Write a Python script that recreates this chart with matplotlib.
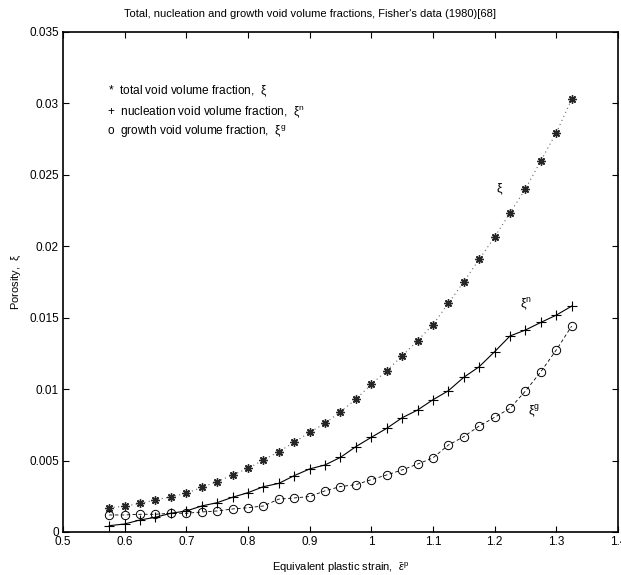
import matplotlib
matplotlib.use("Agg")
import matplotlib.pyplot as plt

plt.rcParams['font.family'] = ['Liberation Sans', 'DejaVu Sans']
plt.rcParams['mathtext.fontset'] = 'custom'
plt.rcParams['mathtext.rm'] = 'Liberation Sans'
plt.rcParams['mathtext.it'] = 'Liberation Sans:italic'
plt.rcParams['mathtext.sf'] = 'Liberation Sans'

# Equivalent plastic strain sampling points
strain = [0.575, 0.6, 0.625, 0.65, 0.675, 0.7, 0.725, 0.75, 0.775, 0.8,
          0.825, 0.85, 0.875, 0.9, 0.925, 0.95, 0.975, 1.0, 1.025, 1.05,
          1.075, 1.1, 1.125, 1.15, 1.175, 1.2, 1.225, 1.25, 1.275, 1.3, 1.325]

# Total void volume fraction
total = [0.0017, 0.0018, 0.0020, 0.00224, 0.00247, 0.0027, 0.00313, 0.00352,
         0.00399, 0.00445, 0.00503, 0.00562, 0.00627, 0.00697, 0.0076, 0.00841,
         0.00928, 0.01033, 0.01128, 0.01231, 0.01338, 0.01450, 0.01599, 0.0175,
         0.01907, 0.02063, 0.02233, 0.02399, 0.02597, 0.02792, 0.03026]

# Nucleation void volume fraction
nucleation = [0.00044, 0.00056, 0.00084, 0.00103, 0.00131, 0.00147, 0.00182,
              0.00205, 0.00243, 0.00275, 0.00317, 0.0034, 0.00394, 0.00441,
              0.00469, 0.00522, 0.00597, 0.00662, 0.00725, 0.00799, 0.00853,
              0.00925, 0.00988, 0.01082, 0.01156, 0.01261, 0.01371, 0.01413,
              0.01466, 0.01517, 0.0158]

# Growth void volume fraction
growth = [0.00119, 0.00119, 0.00124, 0.00124, 0.00131, 0.00131, 0.0014,
          0.00147, 0.00161, 0.0017, 0.00182, 0.0023, 0.00238, 0.00248,
          0.00288, 0.00318, 0.00331, 0.00366, 0.00399, 0.00434, 0.00475,
          0.00518, 0.00608, 0.00667, 0.00741, 0.00802, 0.00865, 0.00986,
          0.01121, 0.01273, 0.0144]

xticks = [0.5, 0.6, 0.7, 0.8, 0.9, 1.0, 1.1, 1.2, 1.3, 1.4]
xticklabels = ['0.5', '0.6', '0.7', '0.8', '0.9', '1', '1.1', '1.2', '1.3', '1.4']
yticks = [0, 0.005, 0.01, 0.015, 0.02, 0.025, 0.03, 0.035]
yticklabels = ['0', '0.005', '0.01', '0.015', '0.02', '0.025', '0.03', '0.035']

XI = r'$\mathrm{\xi}$'
XI_N = r'$\mathrm{\xi}^{\mathrm{n}}$'
XI_G = r'$\mathrm{\xi}^{\mathrm{g}}$'

fig = plt.figure(figsize=(6.21, 5.75), dpi=100)
ax = fig.add_axes([0.1014, 0.0748, 0.8936, 0.8701])

asterisk = (8, 2, 0)
ax.plot(strain, total, linestyle=(0, (1, 3)), color='0.4', linewidth=0.8,
        marker=asterisk, markersize=6, markeredgecolor='0.15',
        markeredgewidth=1.0)
ax.plot(strain, nucleation, linestyle='-', color='black', linewidth=0.8,
        marker='+', markersize=6.5, markeredgewidth=0.8)
ax.plot(strain, growth, linestyle=(0, (4, 3)), color='black', linewidth=0.6,
        marker='o', markersize=6, markerfacecolor='none',
        markeredgecolor='black', markeredgewidth=0.7)

ax.set_xlim(0.5, 1.4)
ax.set_ylim(0, 0.035)
ax.set_xticks(xticks)
ax.set_xticklabels(xticklabels)
ax.set_yticks(yticks)
ax.set_yticklabels(yticklabels)
ax.tick_params(direction='in', length=4, width=0.8, top=True, right=True,
               labelsize=8.5, pad=3)
for sp in ax.spines.values():
    sp.set_linewidth(1.2)

fig.text(341 / 621, 1 - 568 / 575,
         r'Equivalent plastic strain,  $\bar{\varepsilon}^{\mathrm{p}}$',
         ha='center', va='center', fontsize=8)
ax.set_ylabel('Porosity,  ' + XI, fontsize=8, labelpad=4)
fig.text(310 / 621, 1 - 14 / 575,
         "Total, nucleation and growth void volume fractions, Fisher's data (1980)[68]",
         ha='center', va='center', fontsize=8)

# Curve annotations
ax.text(1.208, 0.0240, XI, fontsize=9, ha='center', va='center')
ax.text(1.251, 0.0159, XI_N, fontsize=9, ha='center', va='center')
ax.text(1.264, 0.0084, XI_G, fontsize=9, ha='center', va='center')

# Key text
ax.text(0.573, 0.0308, '*  total void volume fraction,  ' + XI,
        fontsize=8.6, va='center')
ax.text(0.571, 0.02935, '+  nucleation void volume fraction,  ' + XI_N,
        fontsize=8.6, va='center')
ax.text(0.571, 0.0280, 'o  growth void volume fraction,  ' + XI_G,
        fontsize=8.6, va='center')

fig.savefig('out.png', dpi=100)
